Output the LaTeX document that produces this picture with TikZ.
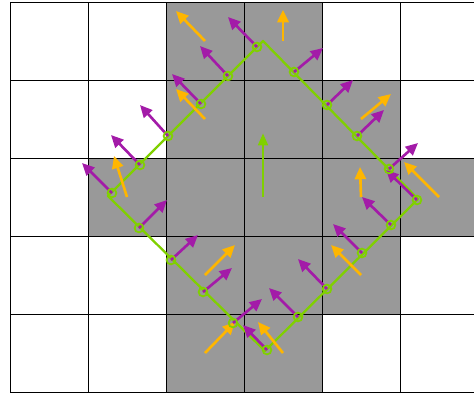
\documentclass[tikz,border=0pt]{standalone}
\usepackage{tikz}
\usetikzlibrary{arrows.meta}
\definecolor{cellgray}{RGB}{153,153,153}
\definecolor{normpurple}{RGB}{163,27,168}
\definecolor{gradyellow}{RGB}{255,182,0}
\definecolor{levelgreen}{RGB}{128,208,0}
\tikzset{
  cell/.style     = {fill=cellgray},
  gridline/.style = {draw=black, line width=0.55pt},
  level/.style    = {draw=levelgreen, line width=1.3pt, line join=round},
  sample/.style   = {circle, draw=levelgreen, line width=1pt, inner sep=0pt, minimum size=5pt},
  normal/.style   = {-{Triangle[length=7pt,width=6.4pt]}, color=normpurple, line width=1.5pt},
  grad/.style     = {-{Triangle[length=7pt,width=6.4pt]}, color=gradyellow, line width=1.5pt},
  mean/.style     = {-{Triangle[length=7pt,width=5.4pt]}, color=levelgreen, line width=1.7pt},
}
\begin{document}
\begin{tikzpicture}[x=0.02cm, y=-0.02cm]
  \useasboundingbox (0,0) rectangle (474,393);
  \clip (0,0) rectangle (474,393);
  \foreach \c/\r in {2/0,3/0,2/1,3/1,4/1,1/2,2/2,3/2,4/2,5/2,2/3,3/3,4/3,2/4,3/4}
    \fill[cell] ({10+78*\c},{2+78*\r}) rectangle ++(78,78);
  \foreach \c in {0,...,5} \draw[gridline] ({10+78*\c},2) -- ({10+78*\c},392);
  \foreach \r in {0,...,5} \draw[gridline] (10,{2+78*\r}) -- (478,{2+78*\r});
  % zero level
  \draw[level] (263,41) coordinate (top) -- (108,196) coordinate (left)
    -- (265,351) coordinate (bottom) -- (418,199) coordinate (right) -- cycle;
  % cell gradients
  \foreach \c/\r/\dx/\dy in {2/0/-29/-30, 3/0/0/-31, 2/1/-29/-30, 1/2/-13/-41, 4/1/30/-25,
      4/2/-1/-30, 5/2/-35/-35, 2/3/30/-30, 4/3/-30/-30, 2/4/30/-31, 3/4/-25/-31}
    \draw[grad] ({49+78*\c},{41+78*\r}) -- ++(\dx,\dy);
  \draw[mean] (263,197) coordinate (mid) -- ++(0,-64);
  % normals at the samples
  \foreach \px/\py/\dx/\dy [count=\i] in {257/47/-29/-30, 228/76/-28/-30, 201/104/-29/-30,
      168/136/-28/-31, 140/165/-29/-30, 112/193/-30/-30, 139/228/28/-28, 171/260/27/-25,
      203/292/29/-24, 233/323/29/-24, 267/350/-24/-25, 298/317/-29/-29, 327/289/-29/-30,
      362/253/-29/-29, 391/225/-29/-28, 417/200/-31/-30, 389/169/29/-26, 357/136/27/-26,
      327/105/26/-25, 294/72/29/-24} {
    \coordinate (p\i) at (\px,\py);
    \draw[normal] (p\i) -- ++(\dx,\dy);
  }
  \foreach \i in {1,...,20} \node[sample] (s\i) at (p\i) {};
\end{tikzpicture}
\end{document}
